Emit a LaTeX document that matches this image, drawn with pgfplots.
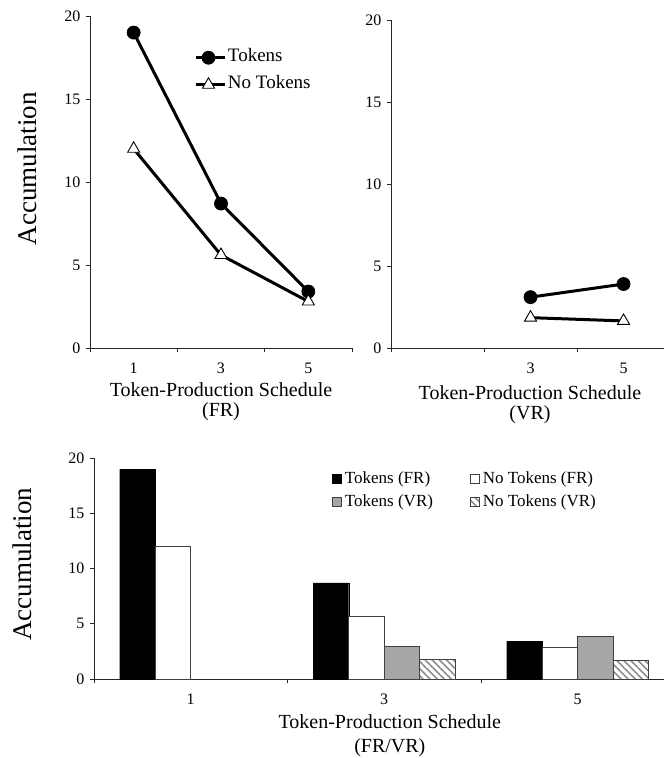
\documentclass[border=0pt]{standalone}
\usepackage{fontspec}
\setmainfont{Liberation Serif}
\usepackage{pgfplots}
\pgfplotsset{compat=1.18}
\usetikzlibrary{patterns.meta}
\definecolor{edge}{HTML}{404040}
\definecolor{midgray}{HTML}{A6A6A6}
\definecolor{hatch}{HTML}{8C8C8C}
\pgfplotsset{
  mybase/.style={
    scale only axis, enlargelimits=false,
    axis x line*=bottom, axis y line*=left,
    axis line style={-, line width=0.9pt, black!85},
    ymin=0, ymax=20, ytick={0,5,10,15,20}, yticklabels={0,5,10,15,20},
    tick align=outside,
    major tick length=4pt,
    tick style={line width=0.8pt, black!85},
    ticklabel style={font=\fontsize{16}{16}\selectfont},
    yticklabel style={xshift=-2pt},
    xticklabels={},
    xlabel style={font=\fontsize{20}{20}\selectfont, align=center, anchor=center},
    ylabel style={font=\fontsize{27}{27}\selectfont, anchor=center},
  },
  lineleg/.style={legend image code/.code={\draw[mark repeat=2,mark phase=2,##1] plot coordinates {(0pt,0pt) (12pt,0pt) (29pt,0pt)};}},
  sq/.style={legend image code/.code={\draw[##1, line width=0.8pt] (0pt,-4.5pt) rectangle (9pt,4.5pt);}},
  tok/.style={line width=3pt, black, mark=*, mark size=6.5pt, mark options={solid, fill=black, line width=0.8pt}},
  notok/.style={line width=3pt, black, mark=triangle*, mark size=7pt, mark options={solid, fill=white, draw=black, line width=0.9pt}},
}
\begin{document}
\begin{tikzpicture}
\useasboundingbox (0,0) rectangle (664pt,758pt);
% Top-left (FR)
\begin{axis}[mybase, at={(90pt,410pt)}, anchor=south west,
  width=262pt, height=332pt, xmin=0, xmax=6,
  xtick={0,2,4,6}, extra x ticks={1,3,5}, extra x tick labels={1,3,5},
  extra x tick style={major tick length=0pt, xticklabel style={yshift=-11pt}},
  xlabel={Token-Production Schedule\\(FR)},
  xlabel style={at={(axis description cs:0.5,-0.162)}},
  ylabel={Accumulation},
  ylabel style={at={(axis description cs:-0.24,0.54)}},
  lineleg,
  legend style={draw=none, fill=none, at={(axis description cs:0.40,0.905)}, anchor=north west,
    inner sep=0pt, row sep=7pt, font=\fontsize{19}{19}\selectfont,
    nodes={text height=13pt, text depth=5pt, inner sep=1pt}},
  legend cell align=left]
\addplot[tok] coordinates {(1,19.0) (3,8.7) (5,3.4)};
\addplot[notok] coordinates {(1,12.0) (3,5.6) (5,2.8)};
\legend{Tokens, No Tokens}
\end{axis}
% Top-right (VR)
\begin{axis}[mybase, at={(391pt,410pt)}, anchor=south west,
  width=273pt, height=328pt, xmin=0, xmax=5.87,
  xtick={0,2,4}, extra x ticks={3,5}, extra x tick labels={3,5},
  extra x tick style={major tick length=0pt, xticklabel style={yshift=-11pt}},
  xlabel={Token-Production Schedule\\(VR)},
  xlabel style={at={(axis description cs:0.509,-0.172)}}]
\addplot[tok] coordinates {(3,3.1) (5,3.9)};
\addplot[notok] coordinates {(3,1.85) (5,1.65)};
\end{axis}
% Bottom (bars)
\begin{axis}[mybase, at={(94pt,79pt)}, anchor=south west,
  width=570pt, height=221pt, xmin=0, xmax=2.946,
  ybar, bar width=0.1835,
  xtick={0,1,2,3}, extra x ticks={0.5,1.5,2.5}, extra x tick labels={1,3,5},
  extra x tick style={major tick length=0pt, xticklabel style={yshift=-11pt}},
  xlabel={Token-Production Schedule\\(FR/VR)},
  xlabel style={font=\fontsize{20}{24}\selectfont, at={(axis description cs:0.519,-0.258)}},
  ylabel={Accumulation},
  ylabel style={at={(axis description cs:-0.125,0.52)}},
  legend columns=2,
  legend style={draw=none, fill=none, at={(axis description cs:0.4175,0.945)}, anchor=north west,
    inner sep=0pt, row sep=5pt, font=\fontsize{17}{17}\selectfont,
    nodes={text height=12pt, text depth=4pt, inner sep=1pt},
    /tikz/every odd column/.append style={column sep=2pt},
    /tikz/every even column/.append style={column sep=36pt}},
  legend cell align=left]
\addplot[sq, fill=black, draw=black, bar shift=-0.27525] coordinates {(0.5,19.0) (1.5,8.7) (2.5,3.4)};
\addplot[sq, fill=white, draw=edge, line width=0.9pt, bar shift=-0.09175] coordinates {(0.5,12.0) (1.5,5.7) (2.5,2.85)};
\addplot[sq, fill=midgray, draw=edge, line width=0.9pt, bar shift=0.09175] coordinates {(1.5,2.95) (2.5,3.85)};
\addplot[sq, draw=edge, line width=0.9pt, pattern={Lines[angle=-45, distance=5pt, line width=1.6pt]}, pattern color=hatch, bar shift=0.27525] coordinates {(1.5,1.8) (2.5,1.65)};
\legend{Tokens (FR), No Tokens (FR), Tokens (VR), No Tokens (VR)}
\end{axis}
\end{tikzpicture}
\end{document}
